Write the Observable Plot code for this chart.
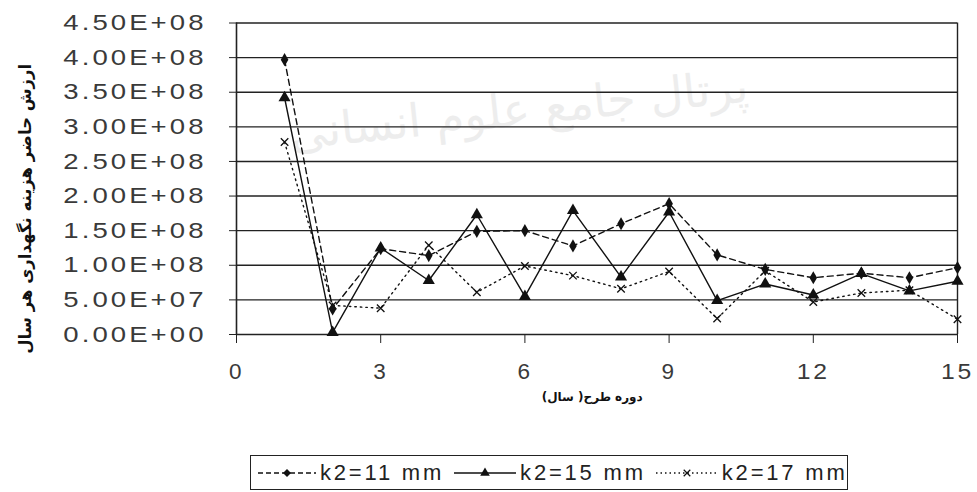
<!DOCTYPE html>
<html>
<head>
<meta charset="utf-8">
<script src="https://cdn.jsdelivr.net/npm/d3@7"></script>
<script src="https://cdn.jsdelivr.net/npm/@observablehq/plot@0.6"></script>
<style>
  html, body { margin: 0; padding: 0; background: #fff; }
  body { width: 977px; height: 492px; position: relative; overflow: hidden; font-family: "Liberation Sans", Arial, sans-serif; }
  #chart { position: absolute; left: 0; top: 0; }
  #legend { position: absolute; left: 250px; top: 455px; width: 598px; height: 35px; border: 1.3px solid #222; box-sizing: border-box; display: flex; align-items: center; padding-left: 5px; font-size: 22px; letter-spacing: 2.8px; color: #222; white-space: nowrap; }
  #legend .item { display: flex; align-items: center; margin-right: 8px; }
  #legend svg { margin-right: 2px; }
  g.tlbl-y text, g.tlbl-x text { letter-spacing: 2.5px; }
</style>
</head>
<body>
<div id="chart"></div>
<div id="legend"></div>
<script>
const years = [1,2,3,4,5,6,7,8,9,10,11,12,13,14,15];
const k11 = [3.97e8, 0.37e8, 1.24e8, 1.14e8, 1.49e8, 1.50e8, 1.28e8, 1.60e8, 1.89e8, 1.15e8, 0.94e8, 0.82e8, 0.886e8, 0.82e8, 0.965e8];
const k15 = [3.42e8, 0.03e8, 1.25e8, 0.78e8, 1.73e8, 0.55e8, 1.79e8, 0.83e8, 1.77e8, 0.49e8, 0.73e8, 0.57e8, 0.88e8, 0.63e8, 0.77e8];
const k17 = [2.78e8, 0.42e8, 0.38e8, 1.29e8, 0.61e8, 0.99e8, 0.85e8, 0.66e8, 0.91e8, 0.23e8, 0.92e8, 0.47e8, 0.60e8, 0.64e8, 0.22e8];
const seriesNames = ["k2=11 mm", "k2=15 mm", "k2=17 mm"];
const yTicks = [0, 0.5e8, 1e8, 1.5e8, 2e8, 2.5e8, 3e8, 3.5e8, 4e8, 4.5e8];
const xTicks = [0, 3, 6, 9, 12, 15];
const yLabel = "ارزش حاضر هزینه نگهداری هر سال";
const xLabel = "دوره طرح( سال)";
const watermark = "پرتال جامع علوم انسانی";

const fmtE = d => {
  if (d === 0) return "0.00E+00";
  const e = Math.floor(Math.log10(d));
  const m = d / Math.pow(10, e);
  return m.toFixed(2) + "E+" + String(e).padStart(2, "0");
};

const mk = (vals) => years.map((y, i) => ({x: y, v: vals[i]}));
const d11 = mk(k11), d15 = mk(k15), d17 = mk(k17);

const plot = Plot.plot({
  width: 977,
  height: 445,
  marginLeft: 236,
  marginRight: 20,
  marginTop: 22.5,
  marginBottom: 111,
  x: {domain: [0, 15]},
  y: {domain: [0, 4.5e8]},
  style: {fontFamily: "'Liberation Sans', Arial, sans-serif", background: "#fff", color: "#222", overflow: "visible"},
  marks: [
    Plot.text([watermark], {frameAnchor: "top", dx: -80, dy: 70, fontSize: 46, fill: "#ededed", fontFamily: "'DejaVu Sans'", rotate: -6}),
    Plot.ruleY(yTicks, {x1: 0, x2: 15, stroke: "#222", strokeWidth: 1.4}),
    Plot.ruleX([15], {y1: 0, y2: 4.5e8, stroke: "#222", strokeWidth: 1.4}),
    Plot.axisY({ticks: yTicks, tickSize: 7, tickPadding: 23, tickFormat: fmtE, fontSize: 22.5, fill: "#3a3a3a", className: "tlbl-y", label: null}),
    Plot.axisX({ticks: xTicks, tickSize: 9, tickPadding: 20, fontSize: 22.5, fill: "#3a3a3a", className: "tlbl-x", label: null}),
    Plot.ruleX([0], {y1: 0, y2: 4.5e8, stroke: "#222", strokeWidth: 1.6}),
    Plot.line(d11, {x: "x", y: "v", stroke: "#111", strokeWidth: 1.4, strokeDasharray: "6,4"}),
    Plot.line(d15, {x: "x", y: "v", stroke: "#111", strokeWidth: 1.4}),
    Plot.line(d17, {x: "x", y: "v", stroke: "#111", strokeWidth: 1.4, strokeDasharray: "1.5,4"}),
    Plot.dot(d11, {x: "x", y: "v", symbol: "diamond", fill: "#111", r: 4}),
    Plot.dot(d15, {x: "x", y: "v", symbol: "triangle", fill: "#111", r: 4.5}),
    Plot.dot(d17, {x: "x", y: "v", symbol: "times", stroke: "#111", strokeWidth: 1.3, r: 3.5}),
    Plot.text([yLabel], {frameAnchor: "left", textAnchor: "middle", dx: -211, dy: 30, rotate: -90, fontSize: 16.5, fontWeight: "bold", fill: "#111", fontFamily: "'DejaVu Sans'"}),
    Plot.text([xLabel], {x: 7.4, y: 0, dy: 63, fontSize: 12, fontWeight: "bold", fill: "#111", fontFamily: "'DejaVu Sans'"})
  ]
});
document.getElementById("chart").appendChild(plot);

// stretch the tick labels (glyphs and spacing) to the reference's widths
function spread(sel, perChar) {
  plot.querySelectorAll(sel).forEach(t => {
    const n = (t.textContent || "").length;
    if (n > 1) {
      t.setAttribute("lengthAdjust", "spacingAndGlyphs");
      t.setAttribute("textLength", (perChar * n).toFixed(1));
    }
  });
}
spread("g.tlbl-y text", 17.9);
spread("g.tlbl-x text", 16.5);

// legend
const legend = document.getElementById("legend");
const samples = [
  {dash: "5,3", sym: "diamond", w: 62},
  {dash: null, sym: "triangle", w: 66},
  {dash: "1.5,3", sym: "times", w: 66}
];
seriesNames.forEach((name, i) => {
  const item = document.createElement("div");
  item.className = "item";
  const s = samples[i];
  const svgNS = "http://www.w3.org/2000/svg";
  const svg = document.createElementNS(svgNS, "svg");
  svg.setAttribute("width", s.w); svg.setAttribute("height", 20);
  const ln = document.createElementNS(svgNS, "line");
  ln.setAttribute("x1", 2); ln.setAttribute("x2", s.w - 2); ln.setAttribute("y1", 10); ln.setAttribute("y2", 10);
  ln.setAttribute("stroke", "#111"); ln.setAttribute("stroke-width", 1.4);
  if (s.dash) ln.setAttribute("stroke-dasharray", s.dash);
  svg.appendChild(ln);
  const p = document.createElementNS(svgNS, "path");
  const symMap = {diamond: d3.symbolDiamond2, triangle: d3.symbolTriangle, times: d3.symbolTimes};
  p.setAttribute("d", d3.symbol(symMap[s.sym], s.sym === "times" ? 30 : 40)());
  p.setAttribute("transform", `translate(${s.w / 2},10)`);
  if (s.sym === "times") { p.setAttribute("fill", "none"); p.setAttribute("stroke", "#111"); p.setAttribute("stroke-width", 1.2); }
  else p.setAttribute("fill", "#111");
  svg.appendChild(p);
  item.appendChild(svg);
  const t = document.createElement("span");
  t.textContent = name;
  item.appendChild(t);
  legend.appendChild(item);
});
</script>
</body>
</html>
